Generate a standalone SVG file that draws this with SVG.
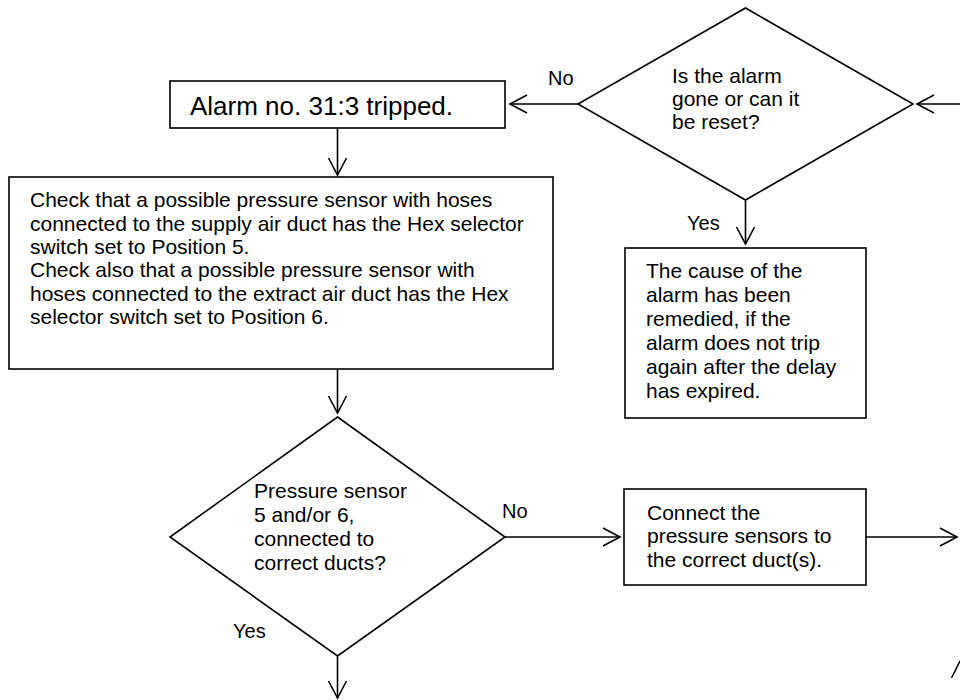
<svg xmlns="http://www.w3.org/2000/svg" width="960" height="700" viewBox="0 0 960 700">
<style>
.shape{fill:#fff;stroke:#000;stroke-width:1.6}
.line{fill:none;stroke:#000;stroke-width:1.6}
text{font-family:"Liberation Sans",Arial,sans-serif;fill:#000}
.t{font-size:21px}
.lbl{font-size:20px}
.big{font-size:26px}
</style>
<defs>
<marker id="arr" markerUnits="userSpaceOnUse" viewBox="-19 -11 21 22" refX="0" refY="0" markerWidth="21" markerHeight="22" orient="auto" overflow="visible">
<path d="M-17,-9 L0,0 L-17,9" fill="none" stroke="#000" stroke-width="1.6"/>
</marker>
</defs>
<rect width="960" height="700" fill="#fff"/>
<g id="connectors">
<line class="line" x1="578" y1="104" x2="510" y2="104" marker-end="url(#arr)"/>
<line class="line" x1="960" y1="104" x2="917" y2="104" marker-end="url(#arr)"/>
<line class="line" x1="337.5" y1="128" x2="337.5" y2="175" marker-end="url(#arr)"/>
<line class="line" x1="745.5" y1="200" x2="745.5" y2="244" marker-end="url(#arr)"/>
<line class="line" x1="337.5" y1="369" x2="337.5" y2="413" marker-end="url(#arr)"/>
<line class="line" x1="505" y1="537" x2="620" y2="537" marker-end="url(#arr)"/>
<line class="line" x1="866" y1="537" x2="957" y2="537" marker-end="url(#arr)"/>
<line class="line" x1="337.5" y1="656" x2="337.5" y2="698" marker-end="url(#arr)"/>
<line class="line" x1="951.5" y1="678" x2="960" y2="661"/>
<text class="lbl" x="548" y="85">No</text>
<text class="lbl" x="687" y="230">Yes</text>
<text class="lbl" x="502" y="518">No</text>
<text class="lbl" x="233" y="638">Yes</text>
</g>
<g id="q-alarm-gone">
<polygon class="shape" points="745.5,8 913,104 745.5,200 578,104"/>
<text class="t" x="672" y="83">Is the alarm</text>
<text class="t" x="672" y="106">gone or can it</text>
<text class="t" x="672" y="129">be reset?</text>
</g>
<g id="alarm-tripped">
<rect class="shape" x="170" y="81" width="335" height="47"/>
<text class="big" x="190" y="115">Alarm no. 31:3 tripped.</text>
</g>
<g id="check-sensors">
<rect class="shape" x="9" y="177" width="544" height="192"/>
<text class="t" x="30" y="207">Check that a possible pressure sensor with hoses</text>
<text class="t" x="30" y="231">connected to the supply air duct has the Hex selector</text>
<text class="t" x="30" y="254">switch set to Position 5.</text>
<text class="t" x="30" y="277">Check also that a possible pressure sensor with</text>
<text class="t" x="30" y="301">hoses connected to the extract air duct has the Hex</text>
<text class="t" x="30" y="324">selector switch set to Position 6.</text>
</g>
<g id="remedied">
<rect class="shape" x="625" y="248" width="241" height="170"/>
<text class="t" x="646" y="278">The cause of the</text>
<text class="t" x="646" y="302">alarm has been</text>
<text class="t" x="646" y="326">remedied, if the</text>
<text class="t" x="646" y="350">alarm does not trip</text>
<text class="t" x="646" y="374">again after the delay</text>
<text class="t" x="646" y="398">has expired.</text>
</g>
<g id="q-sensors-connected">
<polygon class="shape" points="337.5,417 505,537 337.5,656 170,537"/>
<text class="t" x="254" y="498">Pressure sensor</text>
<text class="t" x="254" y="522">5 and/or 6,</text>
<text class="t" x="254" y="546">connected to</text>
<text class="t" x="254" y="570">correct ducts?</text>
</g>
<g id="connect-sensors">
<rect class="shape" x="624" y="489" width="242" height="96"/>
<text class="t" x="647" y="520">Connect the</text>
<text class="t" x="647" y="543">pressure sensors to</text>
<text class="t" x="647" y="567">the correct duct(s).</text>
</g>
</svg>
